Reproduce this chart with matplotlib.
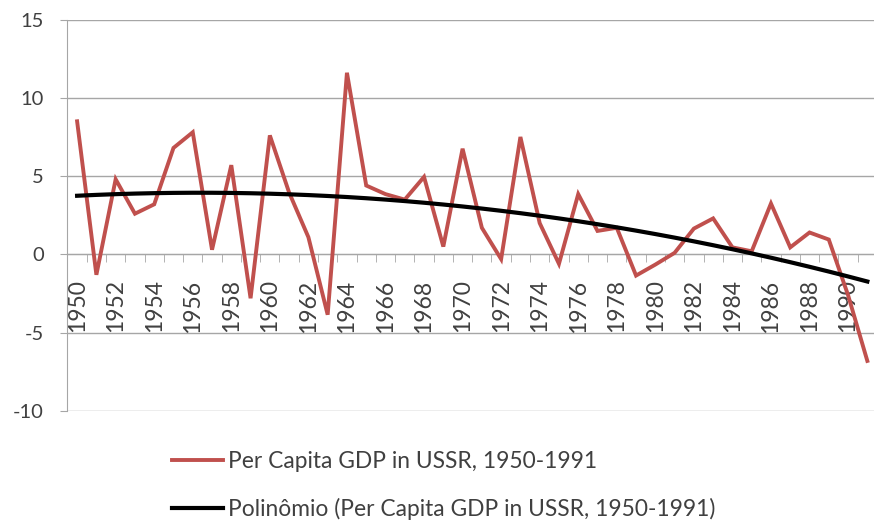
import numpy as np
import matplotlib.pyplot as plt
from matplotlib.ticker import FixedLocator

plt.rcParams['font.family'] = ['Lato', 'DejaVu Sans']
plt.rcParams['axes.unicode_minus'] = False

# Per capita GDP growth, USSR (%)
years = np.arange(1950, 1992)
gdp = [8.5, -1.3, 4.8, 2.6, 3.2, 6.8, 7.8, 0.3, 5.7, -2.8,
       7.6, 3.95, 1.1, -3.85, 11.6, 4.4, 3.85, 3.5, 4.95, 0.5,
       6.75, 1.7, -0.3, 7.5, 2.0, -0.6, 3.85, 1.5, 1.7, -1.35,
       -0.65, 0.1, 1.65, 2.3, 0.45, 0.2, 3.25, 0.45, 1.4, 0.95,
       -2.6, -6.8]
label_years = list(range(1950, 1992, 2))
y_ticks = [-10, -5, 0, 5, 10, 15]

series_name = 'Per Capita GDP in USSR, 1950-1991'
trend_name = 'Polinômio (Per Capita GDP in USSR, 1950-1991)'

# 2nd order polynomial trend line (like Excel)
coef = np.polyfit(years, gdp, 2)
trend = np.polyval(coef, years)

fig = plt.figure(figsize=(8.74, 5.23), dpi=100)
ax = fig.add_axes([0.0772, 0.2141, 0.9262, 0.7486])

grid_col = '#a6a6a6'
text_col = '#404040'

ax.plot(years, gdp, color='#c0504d', lw=2.8, label=series_name,
        solid_joinstyle='miter', zorder=3)
ax.plot(years, trend, color='black', lw=3.0, label=trend_name, zorder=4)

ax.set_xlim(1949.5, 1991.5)
ax.set_ylim(-10, 15)
ax.set_yticks(y_ticks)
ax.yaxis.grid(True, color=grid_col, lw=1)
ax.set_axisbelow(True)

for s in ['top', 'right']:
    ax.spines[s].set_visible(False)
ax.spines['left'].set_color(grid_col)
ax.spines['bottom'].set_color(grid_col)
ax.spines['bottom'].set_position(('data', 0))

ax.tick_params(axis='y', colors=grid_col, labelcolor=text_col,
               labelsize=14.5, length=5, pad=12)
ax.set_xticks(label_years)
ax.set_xticklabels([str(y) for y in label_years], rotation=90,
                   va='top', ha='center')
# tick marks sit between the categories, as in Excel
ax.xaxis.set_minor_locator(FixedLocator(np.arange(1950.5, 1992, 1)))
ax.tick_params(axis='x', which='major', length=0, pad=18,
               labelcolor=text_col, labelsize=16.5)
ax.tick_params(axis='x', which='minor', length=6, color=grid_col)

fig.legend(loc='upper left', bbox_to_anchor=(0.1965, 0.1369),
           frameon=False, fontsize=16.4, handlelength=2.24,
           handletextpad=0.23, labelspacing=1.12, borderpad=0,
           borderaxespad=0, labelcolor=text_col)

fig.savefig('out.png', dpi=100)
